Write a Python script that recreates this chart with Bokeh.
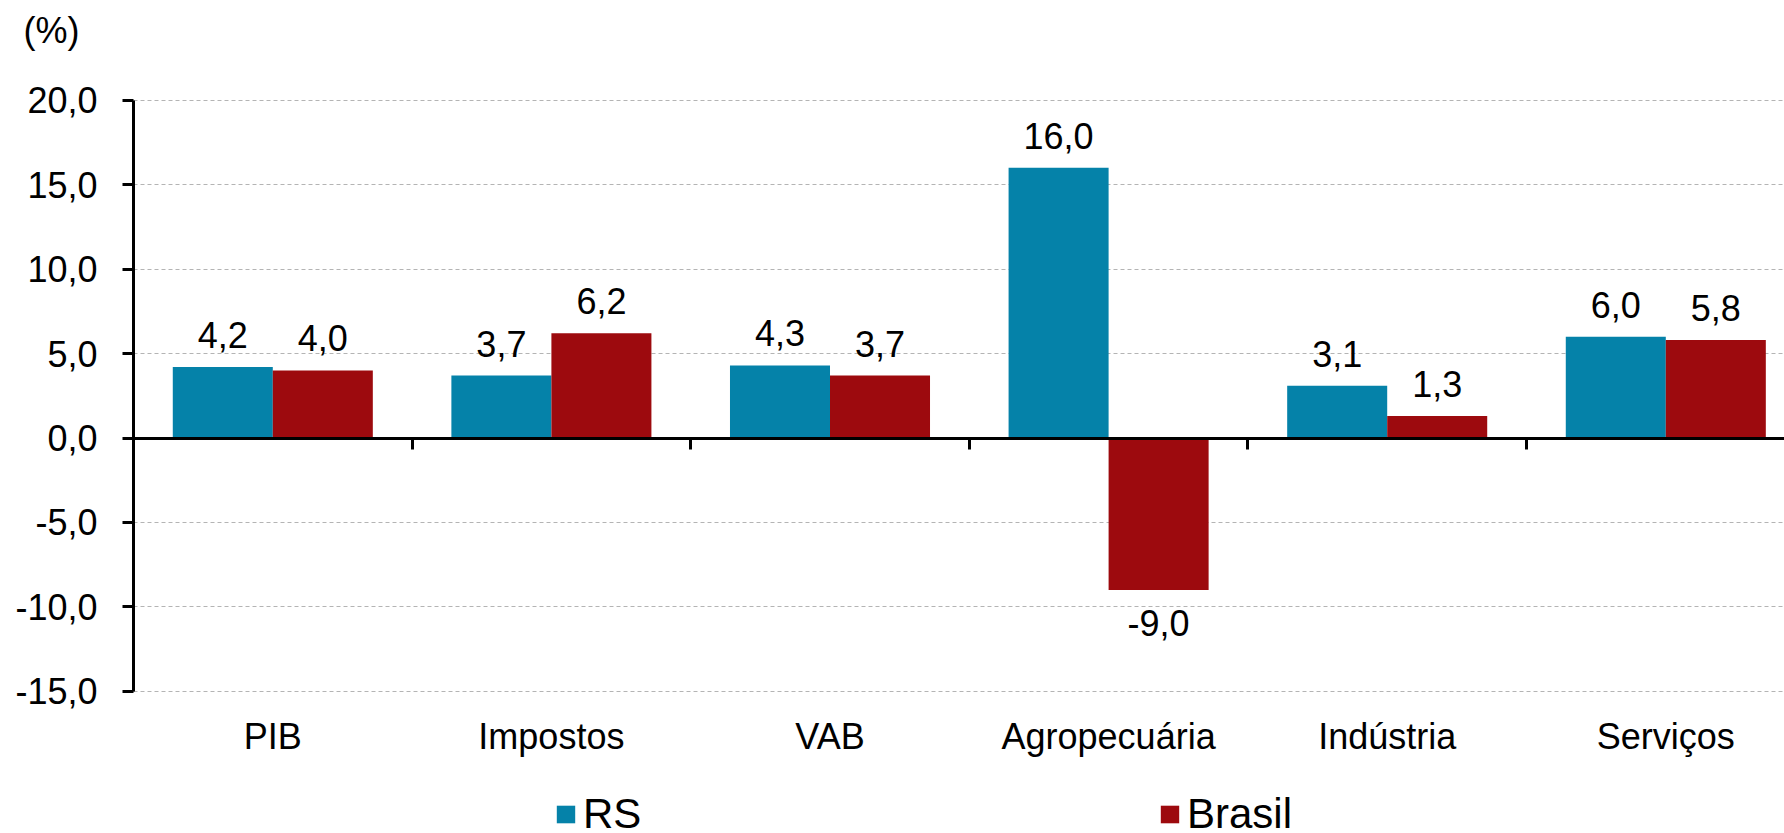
from bokeh.plotting import figure
from bokeh.models import (ColumnDataSource, Range1d, FixedTicker, LinearAxis, Legend,
                          LegendItem, Grid, Label)
from bokeh.core.properties import value
from bokeh.embed import file_html
from bokeh.resources import INLINE

categories = ["PIB", "Impostos", "VAB", "Agropecuária", "Indústria", "Serviços"]
rs = [4.2, 3.7, 4.3, 16.0, 3.1, 6.0]
brasil = [4.0, 6.2, 3.7, -9.0, 1.3, 5.8]
y_ticks = [-15, -10, -5, 0, 5, 10, 15, 20]
series_names = ["RS", "Brasil"]
unit_label = "(%)"
BLUE = "#0582A9"
RED = "#9D0A0E"
FONT = "Liberation Sans"

def fmt(v):
    return f"{v:.1f}".replace(".", ",")

# layout constants (canvas pixels)
W, H = 1784, 833
X0_PX = 133          # pixel column of the y axis
CAT_PX = 278.6       # pixel width of one category
Y0_PX = 437.5        # pixel row of value 0
UNIT_PX = 16.886     # pixels per value unit

n = len(categories)
bar_w = 0.359
centers = [i + 0.5 for i in range(n)]

x_start = -X0_PX / CAT_PX
x_end = (W - X0_PX) / CAT_PX
y_top = Y0_PX / UNIT_PX
y_bot = -(H - Y0_PX) / UNIT_PX
y_min, y_max = min(y_ticks), max(y_ticks)

p = figure(width=W, height=H, min_border=0,
           x_range=Range1d(x_start, x_end), y_range=Range1d(y_bot, y_top),
           x_axis_location=None, y_axis_location=None,
           output_backend="svg", toolbar_location=None, outline_line_color=None)

# drop default grids, add our own dashed horizontal grid
p.center = [r for r in p.center if not isinstance(r, Grid)]
grid = Grid(dimension=1, ticker=FixedTicker(ticks=[t for t in y_ticks if t != 0]),
            cross_bounds=(0, x_end), grid_line_color="#B4B4B4",
            grid_line_dash="4 3", grid_line_width=1)
p.add_layout(grid)

src_rs = ColumnDataSource(dict(x=[c - bar_w / 2 for c in centers], top=rs))
src_br = ColumnDataSource(dict(x=[c + bar_w / 2 for c in centers], top=brasil))

r_rs = p.vbar(x="x", top="top", bottom=0, width=bar_w, source=src_rs,
              fill_color=BLUE, line_color=None)
r_br = p.vbar(x="x", top="top", bottom=0, width=bar_w, source=src_br,
              fill_color=RED, line_color=None)

# value labels
pos_x, pos_y, pos_t, neg_x, neg_y, neg_t = [], [], [], [], [], []
for src_vals, xs in ((rs, src_rs.data["x"]), (brasil, src_br.data["x"])):
    for xv, v in zip(xs, src_vals):
        if v >= 0:
            pos_x.append(xv); pos_y.append(v); pos_t.append(fmt(v))
        else:
            neg_x.append(xv); neg_y.append(v); neg_t.append(fmt(v))

p.text(x=pos_x, y=pos_y, text=pos_t, text_align="center", text_baseline="alphabetic",
       y_offset=-32, text_font=value(FONT), text_font_size="36px", text_color="black")
p.text(x=neg_x, y=neg_y, text=neg_t, text_align="center", text_baseline="top",
       y_offset=20, text_font=value(FONT), text_font_size="36px", text_color="black")

# y axis
ya = LinearAxis(fixed_location=0, bounds=(y_min, y_max), ticker=FixedTicker(ticks=y_ticks),
                major_label_overrides={t: fmt(t) for t in y_ticks})
ya.major_label_text_font = FONT
ya.major_label_text_font_size = "36px"
ya.major_label_text_color = "black"
ya.axis_line_width = 3
ya.axis_line_color = "black"
ya.major_tick_line_width = 3
ya.major_tick_out = 11
ya.major_tick_in = 0
ya.minor_tick_line_color = None
ya.major_label_standoff = 25
p.add_layout(ya, "left")

# zero axis with category separators
za = LinearAxis(fixed_location=0, bounds=(0, x_end),
                ticker=FixedTicker(ticks=list(range(1, n))),
                major_label_overrides={i: "" for i in range(1, n)})
za.axis_line_width = 3
za.axis_line_color = "black"
za.major_tick_line_width = 3
za.major_tick_out = 11
za.major_tick_in = 0
za.minor_tick_line_color = None
za.major_label_text_font_size = "1px"
p.add_layout(za, "below")

# category labels axis at the bottom of the value range
xa = LinearAxis(fixed_location=y_min, ticker=FixedTicker(ticks=centers),
                major_label_overrides={c: name for c, name in zip(centers, categories)})
xa.major_label_text_font = FONT
xa.major_label_text_font_size = "36px"
xa.major_label_text_color = "black"
xa.axis_line_color = None
xa.major_tick_line_color = None
xa.minor_tick_line_color = None
xa.major_label_standoff = 19
p.add_layout(xa, "below")

# unit label "(%)"
p.add_layout(Label(x=x_start + 23 / CAT_PX, y=y_top - 30 / UNIT_PX, text=unit_label,
                   text_font=FONT, text_font_size="36px", text_color="black",
                   text_baseline="middle", text_align="left"))

# legends
for name, r, lx in ((series_names[0], r_rs, 554), (series_names[1], r_br, 1158)):
    lg = Legend(items=[LegendItem(label=name, renderers=[r])], location=(lx, -5),
                padding=0, margin=0, border_line_color=None, background_fill_alpha=0,
                glyph_width=23, glyph_height=22, label_standoff=6,
                label_text_font=FONT, label_text_font_size="42px",
                label_text_color="black")
    p.add_layout(lg, "center")

p.background_fill_color = "white"
p.border_fill_color = "white"

open("out.html", "w").write(file_html(p, INLINE))
